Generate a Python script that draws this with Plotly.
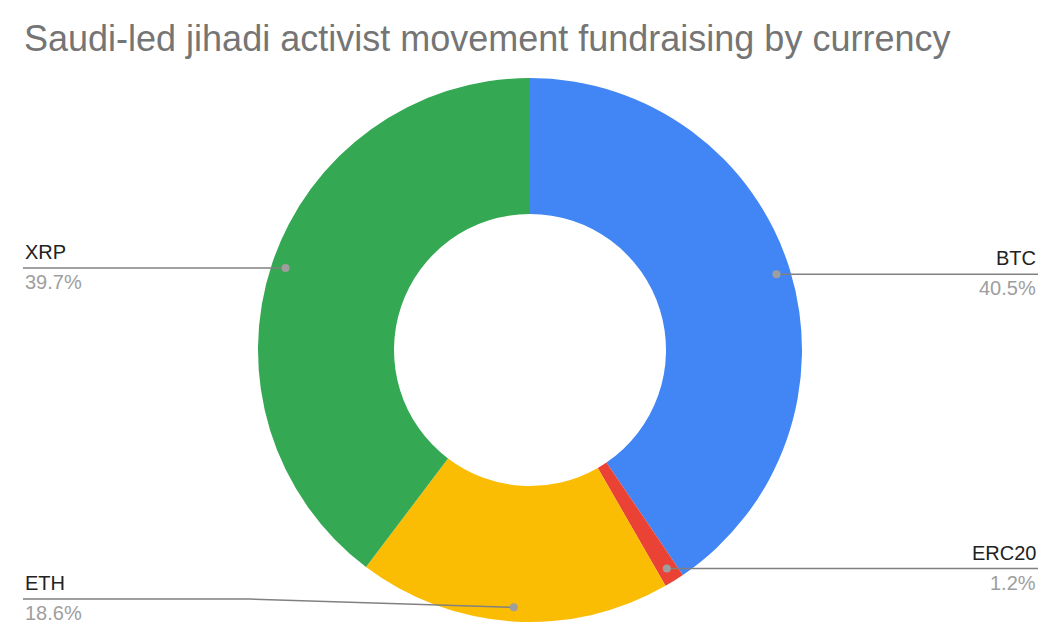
import math
import plotly.graph_objects as go

# currency shares, clockwise from 12 o'clock
currencies = ['BTC', 'ERC20', 'ETH', 'XRP']
shares = [40.5, 1.2, 18.6, 39.7]
colors = ['#4285f4', '#ea4335', '#fbbc04', '#34a853']

title = 'Saudi-led jihadi activist movement fundraising by currency'

# the page body has an 8px margin, so the figure is drawn from (8, 8)
OFF = 8
W, H = 1064 - 2 * OFF, 638 - 2 * OFF
cx, cy, R = 530, 350, 272   # pie centre / outer radius in screen px
hole = 0.5
font = 'Liberation Sans, Arial, sans-serif'

fig = go.Figure()

fig.add_trace(go.Pie(
    labels=currencies, values=shares, marker=dict(colors=colors, line=dict(width=0)),
    sort=False, direction='clockwise', rotation=0, hole=hole,
    textinfo='none', hoverinfo='label+percent', showlegend=False,
    domain=dict(x=[(cx - R - OFF) / W, (cx + R - OFF) / W],
                y=[(H + OFF - cy - R) / H, (H + OFF - cy + R) / H]),
))

# leader lines + labels, placed from the slice mid angles
total = sum(shares)
annotations = [dict(x=22, y=38, xref='x', yref='y', text=title, showarrow=False,
                    xanchor='left', yanchor='middle',
                    font=dict(family=font, size=36, color='#757575'))]
shapes = []
acc = 0
for name, v in zip(currencies, shares):
    mid = (acc + v / 2) / total * 2 * math.pi
    acc += v
    dx = cx + 0.948 * R * math.sin(mid)
    dy = cy - 0.948 * R * math.cos(mid)
    left = dx < cx
    tx = 23 if left else 1038
    ly = min(dy, 599)
    ex = 250 if left else 810
    shapes.append(dict(type='path', xref='x', yref='y', layer='above',
                       path='M {} {} L {} {} L {} {}'.format(tx, ly, ex, ly, dx, dy),
                       line=dict(color='#808080', width=1.5)))
    shapes.append(dict(type='circle', xref='x', yref='y', layer='above',
                       x0=dx - 4, x1=dx + 4, y0=dy - 4, y1=dy + 4,
                       fillcolor='#9e9e9e', line=dict(width=0)))
    anchor = 'left' if left else 'right'
    annotations.append(dict(x=tx, y=ly - 3, xref='x', yref='y', text=name,
                            showarrow=False, xanchor=anchor, yanchor='bottom',
                            font=dict(family=font, size=20, color='#222222')))
    annotations.append(dict(x=tx, y=ly + 1, xref='x', yref='y',
                            text='{:.1f}%'.format(v / total * 100),
                            showarrow=False, xanchor=anchor, yanchor='top',
                            font=dict(family=font, size=20, color='#9e9e9e')))

fig.update_layout(
    width=W, height=H, margin=dict(l=0, r=0, t=0, b=0),
    paper_bgcolor='white', plot_bgcolor='rgba(0,0,0,0)',
    xaxis=dict(range=[OFF, OFF + W], visible=False, fixedrange=True),
    yaxis=dict(range=[OFF + H, OFF], visible=False, fixedrange=True),
    annotations=annotations, shapes=shapes,
)

fig.write_html('out.html')
